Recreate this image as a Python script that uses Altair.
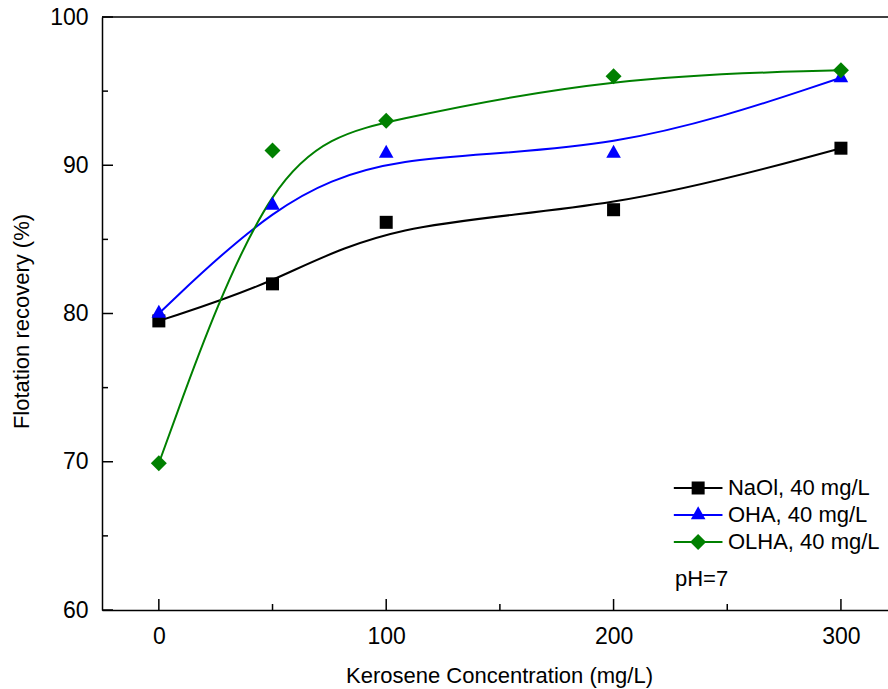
import altair as alt
import pandas as pd

# ---- data ----
conc = [0, 50, 100, 200, 300]
naol = [79.5, 82.0, 86.15, 87.0, 91.15]
oha = [80.0, 87.3, 90.8, 90.8, 95.9]
olha = [69.9, 91.0, 93.0, 96.0, 96.4]
series_names = ["NaOl, 40 mg/L", "OHA, 40 mg/L", "OLHA, 40 mg/L"]

x_major = [0, 100, 200, 300]
x_minor = [50, 150, 250]
y_major = [60, 70, 80, 90, 100]
y_minor = [65, 75, 85, 95]
note_text = "pH=7"

# ---- layout / styles (not data) ----
colors = ["#000000", "#0000ff", "#008000"]
shapes = ["square", "M0,-1.2L1,0.6L-1,0.6Z", "diamond"]
sizes = [169, 256, 306]
FONT = "Liberation Sans"
legend_row_y = [68.23, 66.41, 64.59]     # legend rows, in axis units
legend_line_x = (226.5, 247.9)
legend_mark_x = 237.2
legend_text_x = 250.3
note_pos = (227, 62.09)

rows = []
for name, vals in zip(series_names, [naol, oha, olha]):
    for c, v in zip(conc, vals):
        rows.append({"conc": c, "rec": v, "series": name})
df = pd.DataFrame(rows)
leg_df = pd.DataFrame({"series": series_names, "rec": legend_row_y})

x_scale = alt.Scale(domain=[-25, 320.7], nice=False, zero=False)
y_scale = alt.Scale(domain=[60, 100], nice=False, zero=False)
color_scale = alt.Scale(domain=series_names, range=colors)
shape_scale = alt.Scale(domain=series_names, range=shapes)
size_scale = alt.Scale(domain=series_names, range=sizes)

x_axis = alt.Axis(values=x_major, title="Kerosene Concentration (mg/L)",
                  titleX=397, titleY=55, titleBaseline="top")
y_axis = alt.Axis(values=y_major, title="Flotation recovery (%)",
                  titleX=-73.5, titleY=304, titleBaseline="alphabetic",
                  titleAlign="center", titleAngle=270)

def X(field):
    return alt.X(field, scale=x_scale, axis=x_axis)

def Y(field):
    return alt.Y(field, scale=y_scale, axis=y_axis)

def XD(v):
    return alt.XDatum(v, scale=x_scale, axis=x_axis)

color_enc = alt.Color("series:N", scale=color_scale, sort=series_names, legend=None)
shape_enc = alt.Shape("series:N", scale=shape_scale, legend=None)
size_enc = alt.Size("series:N", scale=size_scale, legend=None)

lines = alt.Chart(df).mark_line(interpolate="basis", strokeWidth=2).encode(
    x=X("conc:Q"), y=Y("rec:Q"), color=color_enc)

points = alt.Chart(df).mark_point(filled=True, opacity=1).encode(
    x=X("conc:Q"), y=Y("rec:Q"), color=color_enc, shape=shape_enc, size=size_enc)

# frame top border
top_border = alt.Chart(pd.DataFrame({"rec": [y_major[-1]]})).mark_rule(
    color="black", strokeWidth=1.5).encode(y=Y("rec:Q"))

# inward ticks
def yticks(vals, length):
    return alt.Chart(pd.DataFrame({"rec": vals})).mark_rule(color="black", strokeWidth=1.5).encode(
        y=Y("rec:Q"), x=alt.value(0), x2=alt.value(length))

def xticks(vals, length):
    return alt.Chart(pd.DataFrame({"conc": vals})).mark_rule(color="black", strokeWidth=1.5).encode(
        x=X("conc:Q"), y=alt.value(593), y2=alt.value(593 - length))

# legend drawn inside the plot
leg_lines = alt.Chart(leg_df).mark_rule(strokeWidth=2).encode(
    x=XD(legend_line_x[0]), x2=alt.X2Datum(legend_line_x[1]), y=Y("rec:Q"), color=color_enc)
leg_marks = alt.Chart(leg_df).mark_point(filled=True, opacity=1).encode(
    x=XD(legend_mark_x), y=Y("rec:Q"), color=color_enc, shape=shape_enc, size=size_enc)
leg_text = alt.Chart(leg_df).mark_text(
    align="left", baseline="middle", font=FONT, fontSize=22, color="black"
).encode(x=XD(legend_text_x), y=Y("rec:Q"), text="series:N")

note = alt.Chart(pd.DataFrame({"t": [note_text]})).mark_text(
    align="left", baseline="middle", font=FONT, fontSize=22, color="black"
).encode(
    x=XD(note_pos[0]),
    y=alt.YDatum(note_pos[1], scale=y_scale, axis=y_axis),
    text="t:N",
)

chart = alt.layer(
    top_border,
    yticks(y_major, 11), yticks(y_minor, 6),
    xticks(x_major, 11), xticks(x_minor, 6),
    lines, points, leg_lines, leg_marks, leg_text, note,
).properties(
    width=786, height=593,
    autosize=alt.AutoSizeParams(type="none"),
    padding={"left": 102, "top": 17, "right": 0, "bottom": 79},
).configure_view(stroke=None).configure_axis(
    grid=False, ticks=False, domainColor="black", domainWidth=1.5,
    labelFont=FONT, labelFontSize=23, labelColor="black",
    titleFont=FONT, titleFontSize=22, titleColor="black", titleFontWeight="normal",
).configure_axisX(labelPadding=15).configure_axisY(labelPadding=14)

chart.save("out.html", embed_options={"renderer": "svg", "actions": False})
